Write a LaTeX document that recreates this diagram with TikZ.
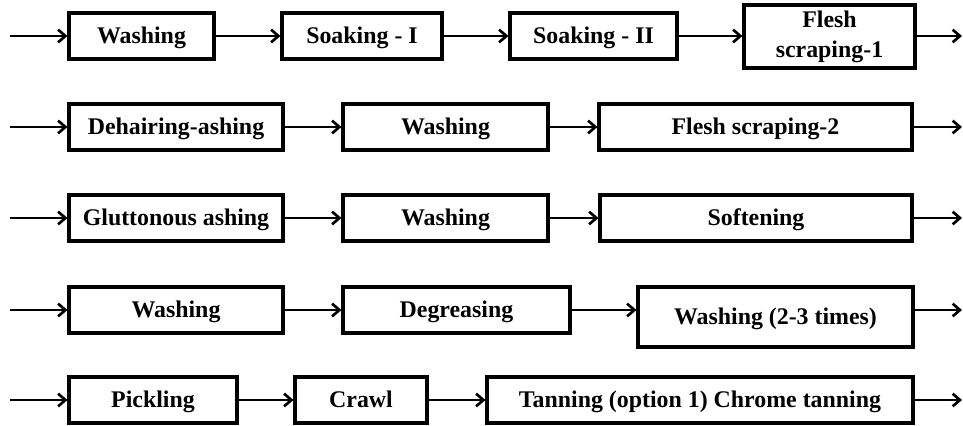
\documentclass[tikz,border=0pt]{standalone}
\usepackage{fontspec}
\setmainfont{Liberation Serif}
\usetikzlibrary{fit,arrows.meta}
\begin{document}
\begin{tikzpicture}[x=0.75pt,y=-0.75pt,
  box/.style={draw=black, line width=2.3pt, inner sep=0pt},
  boxtext/.style={align=center, inner sep=0pt, text height=11.9pt, text depth=0pt,
    font=\fontsize{17.9}{22.5}\selectfont\bfseries},
  twoline/.style={align=center, inner sep=0pt,
    font=\fontsize{17.9}{22.5}\selectfont\bfseries},
  flow/.style={line width=2.2pt, -{Straight Barb[length=5.5pt,width=9.5pt,line width=2pt]}}]
\useasboundingbox (0,0) rectangle (963,425);
% row 1
\node[box, fit={(69,13) (214,59)}, label={[boxtext]center:Washing}] (w1) {};
\node[box, fit={(282,13) (442,59)}, label={[boxtext]center:Soaking - I}] (s1) {};
\node[box, fit={(510,13) (677,59)}, label={[boxtext]center:Soaking - II}] (s2) {};
\node[box, fit={(744,5) (915,68)}, label={[twoline]center:Flesh\\scraping-1}] (f1) {};
% row 2
\node[box, fit={(69,104) (283,150)}, label={[boxtext]center:Dehairing-ashing}] (dh) {};
\node[box, fit={(343,104) (548,150)}, label={[boxtext]center:Washing}] (w2) {};
\node[box, fit={(599,104) (912,150)}, label={[boxtext]center:Flesh scraping-2}] (f2) {};
% row 3
\node[box, fit={(69,195) (283,241)}, label={[boxtext]center:Gluttonous ashing}] (ga) {};
\node[box, fit={(343,195) (548,241)}, label={[boxtext]center:Washing}] (w3) {};
\node[box, fit={(600,195) (912,241)}, label={[boxtext]center:Softening}] (sf) {};
% row 4
\node[box, fit={(69,287) (283,333)}, label={[boxtext]center:Washing}] (w4) {};
\node[box, fit={(343,287) (570,333)}, label={[boxtext]center:Degreasing}] (dg) {};
\node[box, fit={(638,287) (913,347)}, label={[boxtext]center:Washing (2-3 times)}] (w5) {};
% row 5
\node[box, fit={(69,377) (237,423)}, label={[boxtext]center:Pickling}] (pk) {};
\node[box, fit={(295,377) (427,423)}, label={[boxtext]center:Crawl}] (cr) {};
\node[box, fit={(487,377) (913,423)}, label={[boxtext]center:Tanning (option 1) Chrome tanning}] (tn) {};
% free ends
\coordinate (i1) at (10,36);  \coordinate (o1) at (962,36);
\coordinate (i2) at (10,127); \coordinate (o2) at (962,127);
\coordinate (i3) at (10,218); \coordinate (o3) at (962,218);
\coordinate (i4) at (10,310); \coordinate (o4) at (962,310);
\coordinate (i5) at (10,400); \coordinate (o5) at (962,400);
% arrows
\draw[flow] (i1) -- (w1.west);
\draw[flow] (w1) -- (s1);
\draw[flow] (s1) -- (s2);
\draw[flow] (s2.east) -- (s2.east -| f1.west);
\draw[flow] (f1.east |- o1) -- (o1);
\draw[flow] (i2) -- (dh.west);
\draw[flow] (dh) -- (w2);
\draw[flow] (w2) -- (f2);
\draw[flow] (f2.east) -- (o2);
\draw[flow] (i3) -- (ga.west);
\draw[flow] (ga) -- (w3);
\draw[flow] (w3) -- (sf);
\draw[flow] (sf.east) -- (o3);
\draw[flow] (i4) -- (w4.west);
\draw[flow] (w4) -- (dg);
\draw[flow] (dg.east) -- (dg.east -| w5.west);
\draw[flow] (w5.east |- o4) -- (o4);
\draw[flow] (i5) -- (pk.west);
\draw[flow] (pk) -- (cr);
\draw[flow] (cr) -- (tn);
\draw[flow] (tn.east) -- (o5);
\end{tikzpicture}
\end{document}
